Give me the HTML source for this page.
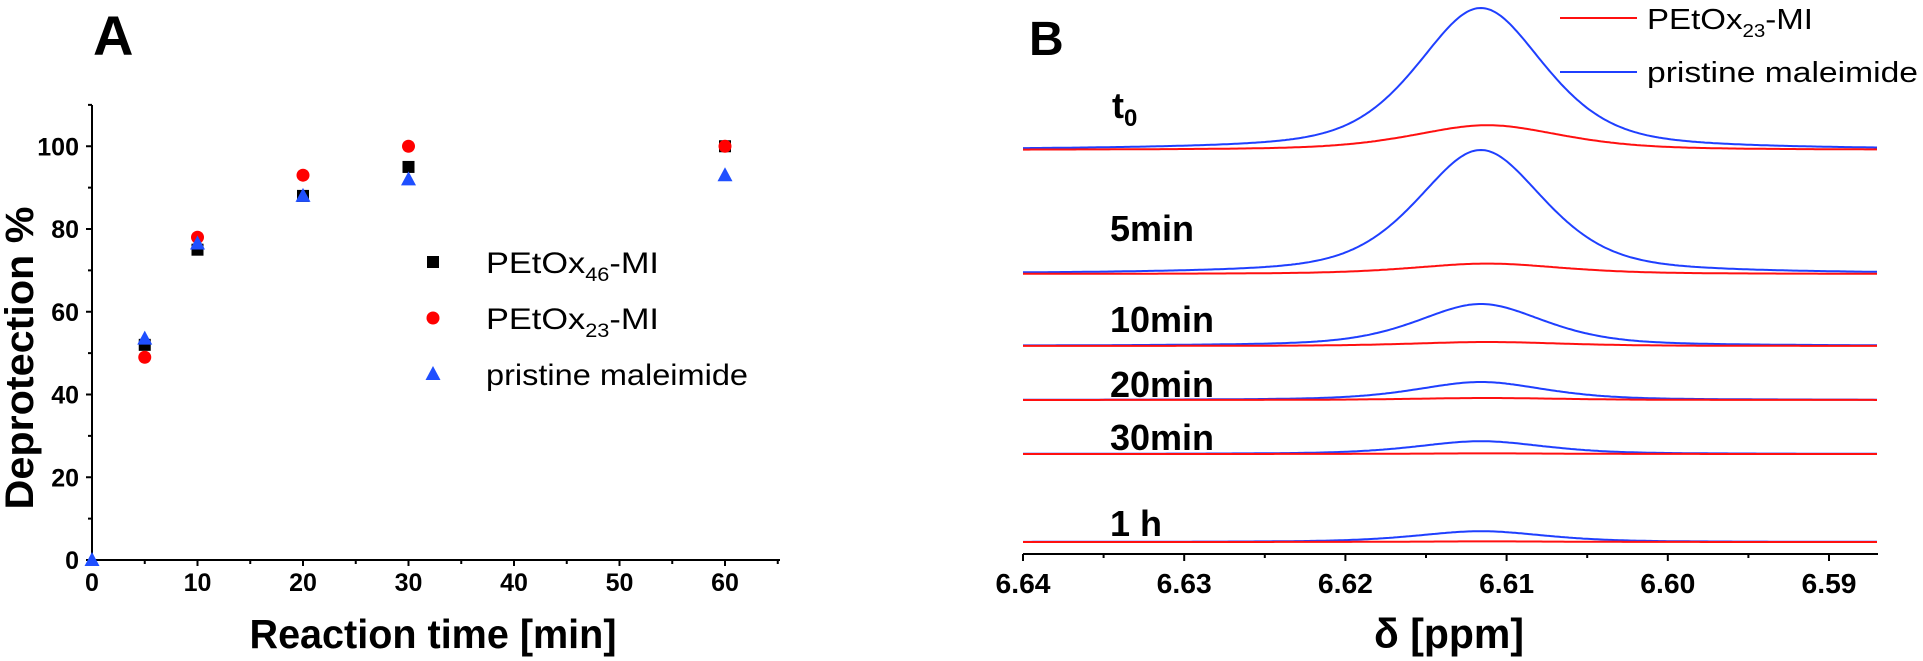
<!DOCTYPE html>
<html><head><meta charset="utf-8"><style>
html,body{margin:0;padding:0;background:#fff;}
svg{display:block;font-family:"Liberation Sans",Arial,sans-serif;}
</style></head><body>
<svg id="fig" width="1923" height="661" viewBox="0 0 1923 661" xmlns="http://www.w3.org/2000/svg">
<g id="panelA"></g>
<g id="panelB"></g>
</svg>
<script>
// ---------- Panel A data ----------
const timesA = [0, 5, 10, 20, 30, 60];
const pe46 = [null, 52, 75, 88, 95, 100];
const pe23 = [null, 49, 78, 93, 100, 100];
const pristine = [0, 53.5, 76.5, 88, 92, 93];
const xTicksA = [0, 10, 20, 30, 40, 50, 60];
const yTicksA = [0, 20, 40, 60, 80, 100];

// ---------- Panel B data ----------
const spectraLabels = ["t0", "5min", "10min", "20min", "30min", "1 h"];
const baselineOffsets = [100, 69, 51, 37.5, 24, 2];   // stacking offset (a.u.)
const blueAmps = [35.5, 31, 10.5, 4.5, 3.2, 2.7];
const redAmps = [6.2, 2.6, 1.0, 0.5, 0.15, 0.15];
const xTicksB = [6.64, 6.63, 6.62, 6.61, 6.60, 6.59];

const NS = "http://www.w3.org/2000/svg";
function mk(parent, tag, attrs, text){
  const e = document.createElementNS(NS, tag);
  for (const k in attrs) e.setAttribute(k, attrs[k]);
  if (text !== undefined) e.textContent = text;
  parent.appendChild(e);
  return e;
}

// ===== Panel A =====
const A = document.getElementById('panelA');
const xA = t => 92 + t * 10.55;
const yA = v => 560 - v * 4.1375;

let e;
e = mk(A, 'text', {x:93, y:55, 'font-size':56, 'font-weight':'bold'}, 'A');



e = mk(A, 'line', {x1:xA(0), y1:yA(0), x2:780, y2:yA(0), stroke:'#000', 'stroke-width':2});


e = mk(A, 'line', {x1:xA(0), y1:yA(0), x2:xA(0), y2:105, stroke:'#000', 'stroke-width':2});



for (let t = 0; t <= 65; t += 5) {
  const major = t % 10 === 0;
  e = mk(A, 'line', {x1:xA(t), y1:yA(0), x2:xA(t), y2:yA(0) + (major ? 6 : 4), stroke:'#000', 'stroke-width':2});
  
  
}
xTicksA.forEach(t => {
  e = mk(A, 'text', {x:xA(t), y:591, 'font-size':25, 'font-weight':'bold', 'text-anchor':'middle'}, String(t));
  
  
});
for (let v = 0; v <= 110; v += 10) {
  const major = v % 20 === 0;
  e = mk(A, 'line', {x1:xA(0), y1:yA(v), x2:xA(0) - (major ? 6 : 4), y2:yA(v), stroke:'#000', 'stroke-width':2});
  
  
}
yTicksA.forEach(v => {
  e = mk(A, 'text', {x:79, y:yA(v) + 9, 'font-size':25, 'font-weight':'bold', 'text-anchor':'end'}, String(v));
  
  
});
e = mk(A, 'text', {x:433, y:648, 'font-size':41, 'font-weight':'bold', 'text-anchor':'middle', textLength:367, lengthAdjust:'spacingAndGlyphs'}, 'Reaction time [min]');


e = mk(A, 'text', {x:0, y:0, 'font-size':40, 'font-weight':'bold', 'text-anchor':'middle', textLength:303, lengthAdjust:'spacingAndGlyphs', transform:'translate(33,358) rotate(-90)'}, 'Deprotection %');



function square(g, cx, cy){ return mk(g, 'rect', {x:cx-6, y:cy-6, width:12, height:12, fill:'#000'}); }
function circ(g, cx, cy){ return mk(g, 'circle', {cx:cx, cy:cy, r:6.5, fill:'#ff0000'}); }
function tri(g, cx, cy){ return mk(g, 'polygon', {points:`${cx},${cy-8} ${cx+7.5},${cy+6} ${cx-7.5},${cy+6}`, fill:'#1f4fff'}); }

timesA.forEach((t, i) => {
  if (pe46[i] !== null) { e = square(A, xA(t), yA(pe46[i]));
    
     }
});
timesA.forEach((t, i) => {
  if (pe23[i] !== null) { e = circ(A, xA(t), yA(pe23[i]));
    
     }
});
timesA.forEach((t, i) => {
  if (pristine[i] !== null) { e = tri(A, xA(t), yA(pristine[i]));
    
     }
});

// legend A
e = square(A, 433, 262);


e = circ(A, 433, 318);


e = tri(A, 433, 374);


function legendText(g, x, y, main, sub, tail, len){
  const t = mk(g, 'text', {x:x, y:y, 'font-size':30});
  mk(t, 'tspan', {}, main);
  if (sub) { mk(t, 'tspan', {'font-size':19, dy:8}, sub); mk(t, 'tspan', {dy:-8}, tail); }
  if (len) { t.setAttribute('textLength', len); t.setAttribute('lengthAdjust', 'spacingAndGlyphs'); }
  return t;
}
e = legendText(A, 486, 273, 'PEtOx', '46', '-MI', 173);


e = legendText(A, 486, 329, 'PEtOx', '23', '-MI', 173);


e = legendText(A, 486, 385, 'pristine maleimide', null, null, 262);



// ===== Panel B =====
const B = document.getElementById('panelB');
const xB = p => 1023 + (6.64 - p) * 16120;
const yScale = 4.0;              // px per a.u.
const axisY = 554;
const yB = v => axisY - 4 - v * yScale;

e = mk(B, 'text', {x:1029, y:55, 'font-size':48, 'font-weight':'bold'}, 'B');



e = mk(B, 'line', {x1:1023, y1:axisY, x2:1878, y2:axisY, stroke:'#000', 'stroke-width':2});


for (let k = 0; k <= 10; k++) {
  const p = 6.64 - k * 0.005;
  const major = k % 2 === 0;
  e = mk(B, 'line', {x1:xB(p), y1:axisY, x2:xB(p), y2:axisY + (major ? 7 : 4), stroke:'#000', 'stroke-width':2});
  
  
}
xTicksB.forEach(p => {
  e = mk(B, 'text', {x:xB(p), y:593, 'font-size':28, 'font-weight':'bold', 'text-anchor':'middle', textLength:55, lengthAdjust:'spacingAndGlyphs'}, p.toFixed(2));
  
  
});
e = mk(B, 'text', {x:1449, y:648, 'font-size':42, 'font-weight':'bold', 'text-anchor':'middle', textLength:150, lengthAdjust:'spacingAndGlyphs'}, 'δ [ppm]');



function shape(p, c, hw){
  const d = (p - c) / hw;
  return 0.5 / (1 + d * d) + 0.5 * Math.exp(-Math.LN2 * d * d);
}
function spectrumPath(off, amp, c, hw){
  let s = '';
  for (let px = 1023; px <= 1878; px += 2) {
    const p = 6.64 - (px - 1023) / 16120;
    const y = yB(off + amp * shape(p, c, hw));
    s += (s ? 'L' : 'M') + px + ',' + y.toFixed(1);
  }
  return s;
}
const labelY = [118, 241, 332, 397, 450, 536];
spectraLabels.forEach((lab, i) => {
  e = mk(B, 'path', {d:spectrumPath(baselineOffsets[i], blueAmps[i], 6.6116, 0.0047), fill:'none', stroke:'#1f3fff', 'stroke-width':2});
  
  
  e = mk(B, 'path', {d:spectrumPath(baselineOffsets[i], redAmps[i], 6.6112, 0.0055), fill:'none', stroke:'#ff1010', 'stroke-width':2});
  
  
  let t;
  if (lab === 't0') {
    t = mk(B, 'text', {x:1112, y:labelY[i], 'font-size':36, 'font-weight':'bold'});
    mk(t, 'tspan', {}, 't');
    mk(t, 'tspan', {'font-size':24, dy:8}, '0');
  } else {
    t = mk(B, 'text', {x:1110, y:labelY[i], 'font-size':36, 'font-weight':'bold'}, lab);
  }
  
  
});

// legend B
e = mk(B, 'line', {x1:1560, y1:18, x2:1637, y2:18, stroke:'#ff1010', 'stroke-width':2});


e = mk(B, 'line', {x1:1560, y1:72, x2:1637, y2:72, stroke:'#1f3fff', 'stroke-width':2});


e = mk(B, 'text', {x:1647, y:29, 'font-size':29});
mk(e, 'tspan', {}, 'PEtOx');
mk(e, 'tspan', {'font-size':18, dy:8}, '23');
mk(e, 'tspan', {dy:-8}, '-MI');
e.setAttribute('textLength', 166);
e.setAttribute('lengthAdjust', 'spacingAndGlyphs');


e = mk(B, 'text', {x:1647, y:82, 'font-size':29, textLength:271, lengthAdjust:'spacingAndGlyphs'}, 'pristine maleimide');


</script>
</body></html>
